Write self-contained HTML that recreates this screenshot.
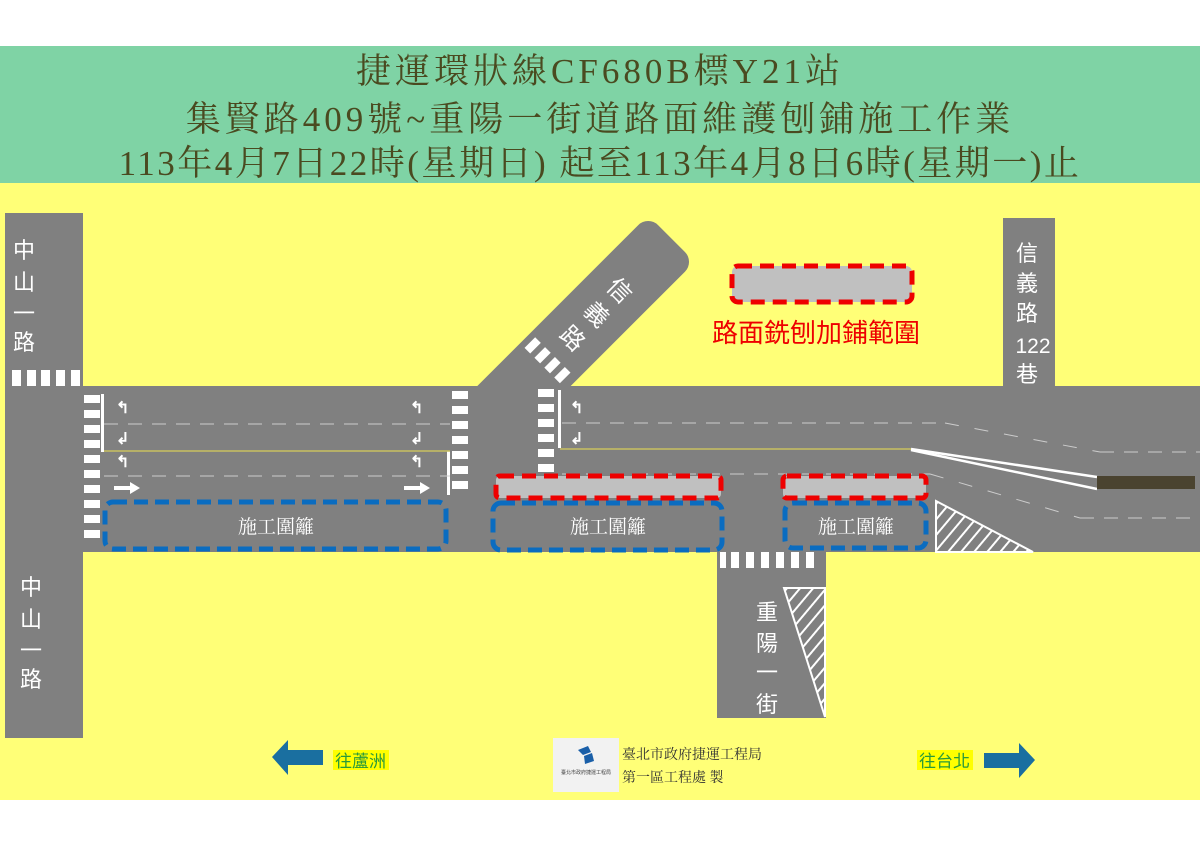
<!DOCTYPE html>
<html><head><meta charset="utf-8"><style>
body{margin:0;width:1200px;height:848px;background:#fff;overflow:hidden;position:relative;font-family:"Liberation Sans","Noto Sans CJK TC",sans-serif}
.hdr{position:absolute;left:0;top:46px;width:1200px;height:137px;background:#7fd3a5}
.hdr div{position:absolute;left:0;width:1200px;text-align:center;font-family:"Liberation Serif","Noto Serif CJK SC",serif;color:#4a4a20;font-size:35px;line-height:40px}
svg{position:absolute;left:0;top:0}
</style></head><body>
<div class="hdr">
<div style="top:6px;letter-spacing:4px">捷運環狀線CF680B標Y21站</div>
<div style="top:54px;letter-spacing:4px">集賢路409號~重陽一街道路面維護刨鋪施工作業</div>
<div style="top:98px;letter-spacing:2.5px">113年4月7日22時(星期日) 起至113年4月8日6時(星期一)止</div>
</div>
<svg width="1200" height="848" viewBox="0 0 1200 848" font-family="Liberation Sans,Noto Sans CJK TC,sans-serif">
<rect x="0" y="183" width="1200" height="617" fill="#ffff77"/>
<!-- roads -->
<rect x="5" y="213" width="78" height="525" fill="#808080"/>
<g transform="translate(523,387) rotate(45)">
<rect x="-33" y="-210" width="66" height="320" rx="14" fill="#808080"/>
</g>
<rect x="0" y="552" width="1200" height="248" fill="#ffff77"/>
<rect x="5" y="540" width="78" height="198" fill="#808080"/>
<rect x="83" y="386" width="1117" height="166" fill="#808080"/>
<rect x="1003" y="218" width="52" height="170" fill="#808080"/>
<rect x="717" y="550" width="109" height="168" fill="#808080"/>
<!-- Xinyi crosswalk -->
<g fill="#fff" transform="translate(550,362) rotate(45)">
<rect x="-28" y="-7" width="8" height="15"/><rect x="-14" y="-7" width="8" height="15"/><rect x="0" y="-7" width="8" height="15"/><rect x="14" y="-7" width="8" height="15"/>
</g>
<g fill="#fff" font-size="24" text-anchor="middle">
<text transform="translate(620,290) rotate(45)" y="9">信</text>
<text transform="translate(597,314) rotate(45)" y="9">義</text>
<text transform="translate(573,338) rotate(45)" y="9">路</text>
</g>
<!-- Zhongshan crosswalk top -->
<g fill="#fff"><rect x="12" y="370" width="9" height="16"/><rect x="27" y="370" width="9" height="16"/><rect x="41" y="370" width="9" height="16"/><rect x="56" y="370" width="9" height="16"/><rect x="71" y="370" width="9" height="16"/></g>
<!-- crosswalks -->
<g fill="#fff">
<rect x="84" y="395" width="16" height="8"/><rect x="84" y="410" width="16" height="8"/><rect x="84" y="425" width="16" height="8"/><rect x="84" y="440" width="16" height="8"/><rect x="84" y="455" width="16" height="8"/><rect x="84" y="470" width="16" height="8"/><rect x="84" y="485" width="16" height="8"/><rect x="84" y="500" width="16" height="8"/><rect x="84" y="515" width="16" height="8"/><rect x="84" y="530" width="16" height="8"/>
<rect x="452" y="391" width="16" height="8"/><rect x="452" y="406" width="16" height="8"/><rect x="452" y="421" width="16" height="8"/><rect x="452" y="436" width="16" height="8"/><rect x="452" y="451" width="16" height="8"/><rect x="452" y="466" width="16" height="8"/><rect x="452" y="481" width="16" height="8"/>
<rect x="538" y="389" width="16" height="8"/><rect x="538" y="404" width="16" height="8"/><rect x="538" y="419" width="16" height="8"/><rect x="538" y="434" width="16" height="8"/><rect x="538" y="449" width="16" height="8"/><rect x="538" y="464" width="16" height="8"/>
<rect x="731" y="552" width="8" height="16"/><rect x="746" y="552" width="8" height="16"/><rect x="761" y="552" width="8" height="16"/><rect x="776" y="552" width="8" height="16"/><rect x="791" y="552" width="8" height="16"/><rect x="806" y="552" width="8" height="16"/><rect x="720" y="552" width="6" height="16"/>
<rect x="101" y="394" width="3" height="58"/><rect x="447" y="451" width="3" height="44"/><rect x="558" y="390" width="3" height="58"/>
</g>
<!-- lane lines -->
<line x1="104" y1="424" x2="450" y2="424" stroke="#ccc" stroke-width="1" stroke-dasharray="14,10"/>
<line x1="104" y1="476" x2="450" y2="476" stroke="#ccc" stroke-width="1" stroke-dasharray="14,10"/>
<line x1="562" y1="423" x2="945" y2="423" stroke="#ccc" stroke-width="1" stroke-dasharray="14,10"/>
<line x1="945" y1="423" x2="1100" y2="452" stroke="#ccc" stroke-width="1" stroke-dasharray="14,16"/>
<line x1="1100" y1="452" x2="1200" y2="452" stroke="#ccc" stroke-width="1" stroke-dasharray="14,10"/>
<line x1="562" y1="474" x2="930" y2="474" stroke="#ccc" stroke-width="1" stroke-dasharray="14,10"/>
<line x1="930" y1="474" x2="1080" y2="518" stroke="#ccc" stroke-width="1" stroke-dasharray="14,16"/>
<line x1="1080" y1="518" x2="1200" y2="518" stroke="#ccc" stroke-width="1" stroke-dasharray="14,10"/>
<line x1="104" y1="451" x2="450" y2="451" stroke="#c8c060" stroke-width="1.5"/>
<line x1="560" y1="449" x2="911" y2="449" stroke="#c8c060" stroke-width="1.5"/>
<line x1="911" y1="449" x2="1097" y2="477" stroke="#fff" stroke-width="2.5"/>
<line x1="911" y1="450" x2="1097" y2="489" stroke="#fff" stroke-width="2.5"/>
<rect x="1097" y="476" width="98" height="13" fill="#4a4330"/>
<!-- arrows -->
<g fill="#fff" font-size="16" font-weight="bold">
<text x="116" y="413">↰</text><text x="116" y="444">↲</text><text x="116" y="467">↰</text><path d="M114,486 h16 v-4 l10,6 -10,6 v-4 h-16z"/>
<text x="410" y="413">↰</text><text x="410" y="444">↲</text><text x="410" y="467">↰</text><path d="M404,486 h16 v-4 l10,6 -10,6 v-4 h-16z"/>
<text x="570" y="413">↰</text><text x="570" y="444">↲</text>
</g>
<!-- hatch -->
<defs><pattern id="h" width="10" height="10" patternUnits="userSpaceOnUse" patternTransform="rotate(40)"><rect width="10" height="10" fill="#808080"/><rect width="2" height="10" fill="#fff"/></pattern></defs>
<polygon points="936,501 1033,552 936,552" fill="url(#h)" stroke="#fff" stroke-width="2"/>
<polygon points="784,588 825,588 825,717" fill="url(#h)" stroke="#fff" stroke-width="2"/>
<!-- red boxes -->
<rect x="732" y="266" width="180" height="36" rx="6" fill="#c0c0c0" stroke="#e00" stroke-width="5" stroke-dasharray="14,8"/>
<rect x="496" y="476" width="225" height="22" rx="4" fill="#c0c0c0" stroke="#e00" stroke-width="5" stroke-dasharray="14,8"/>
<rect x="783" y="476" width="143" height="22" rx="4" fill="#c0c0c0" stroke="#e00" stroke-width="5" stroke-dasharray="14,8"/>
<text x="816" y="342" fill="#e00" font-size="26" text-anchor="middle">路面銑刨加鋪範圍</text>
<!-- blue boxes -->
<g fill="none" stroke="#0a6cc0" stroke-width="5" stroke-dasharray="14,7">
<rect x="105" y="502" width="341" height="47" rx="8"/>
<rect x="493" y="503" width="229" height="47" rx="8"/>
<rect x="785" y="503" width="141" height="45" rx="8"/>
</g>
<g fill="#fff" font-size="19" text-anchor="middle" font-family="Liberation Serif,Noto Serif CJK SC,serif">
<text x="276" y="533">施工圍籬</text><text x="608" y="533">施工圍籬</text><text x="856" y="533">施工圍籬</text>
</g>
<!-- road names -->
<g fill="#fff" font-size="22" text-anchor="middle">
<text x="24" y="258">中</text><text x="24" y="290">山</text><text x="24" y="321">一</text><text x="24" y="350">路</text>
<text x="31" y="595">中</text><text x="31" y="627">山</text><text x="31" y="658">一</text><text x="31" y="687">路</text>
<text x="1027" y="261">信</text><text x="1027" y="291">義</text><text x="1027" y="321">路</text><text x="1033" y="353" font-size="21">122</text><text x="1027" y="382">巷</text>
<text x="767" y="620">重</text><text x="767" y="651">陽</text><text x="767" y="680">一</text><text x="767" y="712">街</text>
</g>
<!-- bottom -->
<path d="M272,757 l16,-17 v10 h35 v15 h-35 v10z" fill="#1a6fa0"/>
<path d="M1035,760 l-16,-17 v10 h-35 v15 h35 v10z" fill="#1a6fa0"/>
<rect x="333" y="750" width="56" height="20" fill="#ffff00"/>
<rect x="917" y="750" width="56" height="20" fill="#ffff00"/>
<g fill="#2a9a3a" font-size="17"><text x="335" y="767">往蘆洲</text><text x="919" y="767">往台北</text></g>
<rect x="553" y="738" width="66" height="54" fill="#f2f2f2"/>
<path d="M578,750 l10,-4 3,6 -8,3z M584,756 l8,-3 2,8 -9,3z" fill="#1a5fa8"/>
<text x="586" y="774" font-size="5" fill="#444" text-anchor="middle">臺北市政府捷運工程局</text>
<g fill="#333" font-size="14" font-family="Liberation Serif,Noto Serif CJK SC,serif"><text x="622" y="759">臺北市政府捷運工程局</text><text x="622" y="782">第一區工程處 製</text></g>
</svg>
</body></html>
